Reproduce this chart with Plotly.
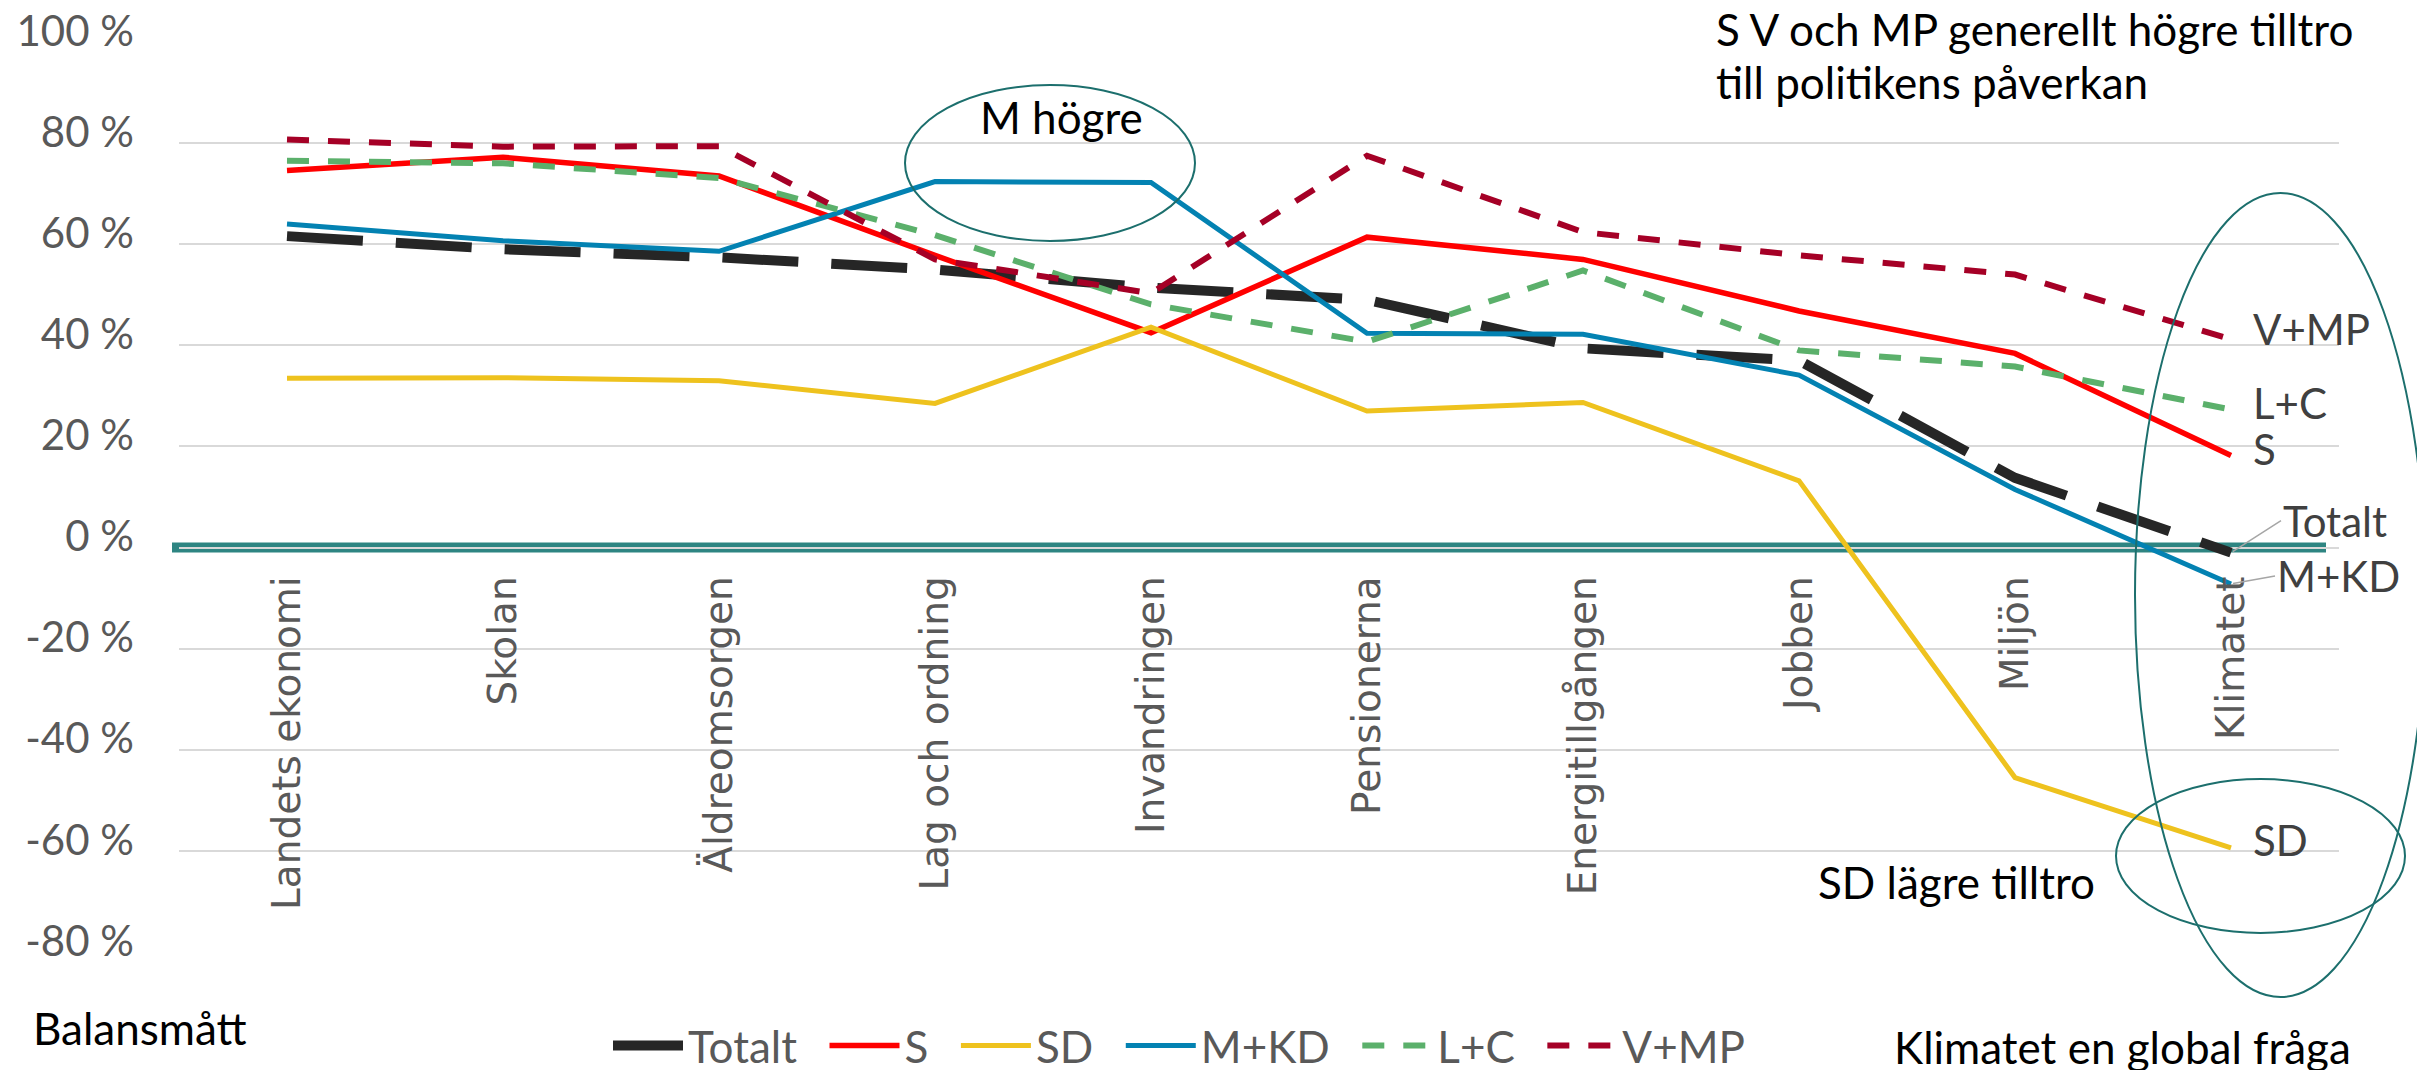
import plotly.graph_objects as go

# ---------------- data ----------------
categories = ["Landets ekonomi", "Skolan", "Äldreomsorgen", "Lag och ordning", "Invandringen",
              "Pensionerna", "Energitillgången", "Jobben", "Miljön", "Klimatet"]

totalt = [61.6, 59.0, 57.4, 55.0, 51.4, 49.0, 39.4, 37.0, 13.8, -1.0]
s_vals = [74.6, 77.2, 73.5, 57.8, 42.5, 61.4, 57.0, 46.8, 38.4, 18.2]
sd_vals = [33.5, 33.6, 33.0, 28.5, 43.6, 27.0, 28.7, 13.2, -45.5, -59.4]
mkd_vals = [64.0, 60.7, 58.6, 72.4, 72.2, 42.4, 42.2, 34.1, 11.5, -7.2]
lc_vals = [76.5, 76.0, 73.1, 61.8, 48.1, 40.7, 54.8, 39.0, 35.8, 27.3]
vmp_vals = [80.7, 79.3, 79.4, 57.0, 50.3, 77.5, 62.4, 57.8, 54.0, 41.2]

series_names = ["Totalt", "S", "SD", "M+KD", "L+C", "V+MP"]
series_values = [totalt, s_vals, sd_vals, mkd_vals, lc_vals, vmp_vals]

y_tickvals = [-80, -60, -40, -20, 0, 20, 40, 60, 80, 100]
y_ticktext = [f"{v} %" for v in y_tickvals]

# ---------------- styles ----------------
styles = {
    "Totalt": dict(color="#262626", width=10, dash="76px,33px"),
    "S": dict(color="#FF0000", width=5.5, dash="solid"),
    "SD": dict(color="#EEC21E", width=5, dash="solid"),
    "M+KD": dict(color="#0382B2", width=5, dash="solid"),
    "L+C": dict(color="#5BB06B", width=6, dash="22px,19px"),
    "V+MP": dict(color="#A50026", width=6, dash="22px,19px"),
}

W, H = 2425, 1070
ML, MR, MT, MB = 171, 94, 34, 126
PW, PH = W - ML - MR, H - MT - MB
YMIN, YMAX = y_tickvals[0], y_tickvals[-1]

CAL = "Lato, 'Open Sans', sans-serif"
VER = "'DejaVu Sans', Verdana, sans-serif"
GRAY = "#595959"
TEAL = "#1C6F6D"
TEXT_DY = -10  # font baseline correction (px, negative = up)


def px_x(px):
    return (px - ML) / PW


def px_y(py):
    return (H - MB - py) / PH


fig = go.Figure()
NB = "\u00a0\u00a0"
for name, vals in zip(series_names, series_values):
    st = styles[name]
    fig.add_trace(go.Scatter(
        x=categories, y=vals, name=name + NB, mode="lines",
        line=dict(color=st["color"], width=st["width"], dash=st["dash"]),
        hoverinfo="skip",
    ))

zero_frac = (0 - YMIN) / (YMAX - YMIN)

shapes = [
    dict(type="line", xref="paper", yref="paper", x0=px_x(164), x1=px_x(2318),
         y0=zero_frac, y1=zero_frac, line=dict(color="#2E8582", width=10), layer="below"),
    dict(type="circle", xref="paper", yref="paper", x0=px_x(897), x1=px_x(1187),
         y0=px_y(233), y1=px_y(77), line=dict(color=TEAL, width=2)),
    dict(type="circle", xref="paper", yref="paper", x0=px_x(2127), x1=px_x(2418),
         y0=px_y(989), y1=px_y(185), line=dict(color=TEAL, width=2)),
    dict(type="circle", xref="paper", yref="paper", x0=px_x(2108), x1=px_x(2397),
         y0=px_y(925), y1=px_y(771), line=dict(color=TEAL, width=2)),
]

annotations = []
last = categories[-1]
LABC = "#404040"
for name, vals, dy in [("V+MP", vmp_vals, 0), ("L+C", lc_vals, -3), ("S", s_vals, -3), ("SD", sd_vals, -2)]:
    annotations.append(dict(x=last, y=vals[-1], xref="x", yref="y", text=name, showarrow=False,
                            xanchor="left", yanchor="middle", xshift=20, yshift=dy - TEXT_DY,
                            font=dict(family=CAL, size=42, color=LABC)))
annotations.append(dict(x=last, y=totalt[-1], xref="x", yref="y", text="Totalt", showarrow=True,
                        arrowhead=0, arrowwidth=1.5, arrowcolor="#A6A6A6", ax=50, ay=-22 + TEXT_DY,
                        xanchor="left", yanchor="middle", standoff=2,
                        font=dict(family=CAL, size=42, color=LABC)))
annotations.append(dict(x=last, y=mkd_vals[-1], xref="x", yref="y", text="M+KD", showarrow=True,
                        arrowhead=0, arrowwidth=1.5, arrowcolor="#A6A6A6", ax=44, ay=2 + TEXT_DY,
                        xanchor="left", yanchor="middle", standoff=2,
                        font=dict(family=CAL, size=42, color=LABC)))

free_texts = [
    ("S V och MP generellt högre tilltro", 1706, 31, "left"),
    ("till politikens påverkan", 1706, 84, "left"),
    ("M högre", 1053, 119, "center"),
    ("SD lägre tilltro", 1808, 884, "left"),
    ("Balansmått", 23, 1030, "left"),
    ("Klimatet en global fråga", 1884, 1049, "left"),
]
for txt, xp, yp, anc in free_texts:
    annotations.append(dict(x=px_x(xp), y=px_y(yp + TEXT_DY), xref="paper", yref="paper", text=txt,
                            showarrow=False, xanchor=anc, yanchor="middle",
                            font=dict(family=CAL, size=44, color="#000000")))

fig.update_layout(
    width=W, height=H,
    margin=dict(l=ML, r=MR, t=MT, b=MB, autoexpand=False),
    paper_bgcolor="white", plot_bgcolor="white",
    shapes=shapes, annotations=annotations,
    showlegend=True,
    legend=dict(orientation="h", x=px_x(600), xanchor="left", y=px_y(1049 + TEXT_DY - 1),
                yanchor="middle",
                font=dict(family=CAL, size=44, color=GRAY), itemwidth=70,
                bgcolor="rgba(0,0,0,0)", traceorder="normal"),
    xaxis=dict(type="category", range=[-0.5, len(categories) - 0.5], anchor="free",
               position=zero_frac, showgrid=False, showline=False, zeroline=False,
               ticks="", tickangle=-90, ticklabelstandoff=20, automargin=False,
               tickfont=dict(family=VER, size=39, color=GRAY)),
    yaxis=dict(range=[YMIN, YMAX], tickvals=y_tickvals, ticktext=y_ticktext,
               showgrid=True, gridcolor="#D9D9D9", gridwidth=2, zeroline=False,
               showline=False, ticks="", ticklabelstandoff=44, ticklabelshift=-11,
               ticklabeloverflow="allow", automargin=False,
               tickfont=dict(family=CAL, size=42, color=GRAY)),
)

fig.write_html("out.html")
